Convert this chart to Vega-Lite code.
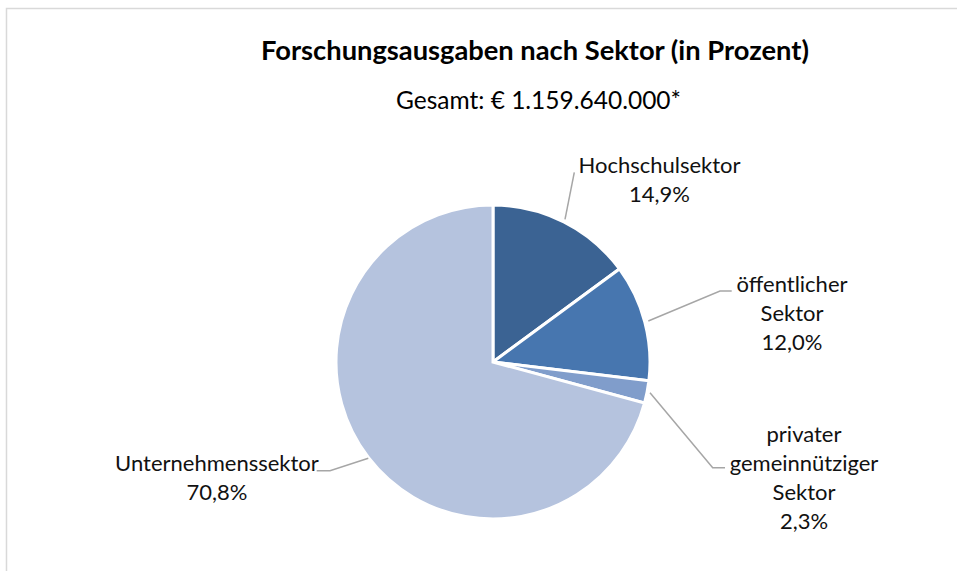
{
  "$schema": "https://vega.github.io/schema/vega-lite/v6.json",
  "width": 957,
  "height": 571,
  "padding": 0,
  "autosize": {"type": "none"},
  "background": "white",
  "config": {"view": {"stroke": null}, "font": "Lato"},
  "datasets": {
    "slices": [
      {"sector": "Hochschulsektor", "pct": 14.9, "idx": 1},
      {"sector": "öffentlicher Sektor", "pct": 12.0, "idx": 2},
      {"sector": "privater gemeinnütziger Sektor", "pct": 2.3, "idx": 3},
      {"sector": "Unternehmenssektor", "pct": 70.8, "idx": 4}
    ],
    "leaders": [
      {"sector": "Hochschulsektor", "seq": 1, "x": 0.4586, "y": 0.9089},
      {"sector": "Hochschulsektor", "seq": 2, "x": 0.5178, "y": 1.2083},
      {"sector": "öffentlicher Sektor", "seq": 1, "x": 0.9892, "y": 0.2611},
      {"sector": "öffentlicher Sektor", "seq": 2, "x": 1.4459, "y": 0.4522},
      {"sector": "öffentlicher Sektor", "seq": 3, "x": 1.5204, "y": 0.4522},
      {"sector": "privater gemeinnütziger Sektor", "seq": 1, "x": 1.0, "y": -0.1955},
      {"sector": "privater gemeinnütziger Sektor", "seq": 2, "x": 1.3994, "y": -0.6732},
      {"sector": "privater gemeinnütziger Sektor", "seq": 3, "x": 1.4777, "y": -0.6732},
      {"sector": "Unternehmenssektor", "seq": 1, "x": -0.7943, "y": -0.6134},
      {"sector": "Unternehmenssektor", "seq": 2, "x": -1.0382, "y": -0.6924},
      {"sector": "Unternehmenssektor", "seq": 3, "x": -1.1229, "y": -0.6924}
    ],
    "labels": [
      {"label": "Hochschulsektor\n14,9%", "x": 1.0605, "y": 1.2038},
      {"label": "öffentlicher\nSektor\n12,0%", "x": 1.9045, "y": 0.449},
      {"label": "privater\ngemeinnütziger\nSektor\n2,3%", "x": 1.9809, "y": -0.5064},
      {"label": "Unternehmenssektor\n70,8%", "x": -1.758, "y": -0.6943}
    ],
    "titles": [
      {"text": "Forschungsausgaben nach Sektor (in Prozent)", "kind": "title", "x": 0.2675, "y": 1.9236},
      {"text": "Gesamt: € 1.159.640.000*", "kind": "subtitle", "x": 0.2898, "y": 1.6115}
    ],
    "frame": [
      {"x": -3.0987, "y": 2.2516, "x2": 3.3, "y2": -1.6}
    ]
  },
  "layer": [
    {
      "data": {"name": "frame"},
      "mark": {"type": "rect", "fill": null, "stroke": "#D9D9D9", "strokeWidth": 1.5},
      "encoding": {
        "x": {"field": "x", "type": "quantitative", "scale": {"domain": [-3.1401, 2.9554], "nice": false, "zero": false}, "axis": null},
        "x2": {"field": "x2"},
        "y": {"field": "y", "type": "quantitative", "scale": {"domain": [-1.3312, 2.3057], "nice": false, "zero": false}, "axis": null},
        "y2": {"field": "y2"}
      }
    },
    {
      "data": {"name": "slices"},
      "mark": {"type": "arc", "outerRadius": 157, "stroke": "white", "strokeWidth": 3},
      "encoding": {
        "theta": {"field": "pct", "type": "quantitative", "stack": true},
        "order": {"field": "idx", "type": "quantitative"},
        "color": {
          "field": "sector",
          "type": "nominal",
          "scale": {
            "domain": ["Hochschulsektor", "öffentlicher Sektor", "privater gemeinnütziger Sektor", "Unternehmenssektor"],
            "range": ["#3B6393", "#4776AF", "#809DCB", "#B5C3DE"]
          },
          "legend": null
        },
        "x": {"datum": 0, "type": "quantitative"},
        "y": {"datum": 0, "type": "quantitative"}
      }
    },
    {
      "data": {"name": "leaders"},
      "mark": {"type": "line", "color": "#A6A6A6", "strokeWidth": 1.5},
      "encoding": {
        "x": {"field": "x", "type": "quantitative"},
        "y": {"field": "y", "type": "quantitative"},
        "detail": {"field": "sector"},
        "order": {"field": "seq", "type": "quantitative"}
      }
    },
    {
      "data": {"name": "labels"},
      "mark": {"type": "text", "align": "center", "baseline": "alphabetic", "lineBreak": "\n", "lineHeight": 29.3, "fontSize": 22, "color": "#111111"},
      "encoding": {
        "x": {"field": "x", "type": "quantitative"},
        "y": {"field": "y", "type": "quantitative"},
        "text": {"field": "label"}
      }
    },
    {
      "data": {"name": "titles"},
      "transform": [{"filter": "datum.kind === 'title'"}],
      "mark": {"type": "text", "align": "center", "baseline": "alphabetic", "fontSize": 27.3, "fontWeight": "bold", "color": "#000000"},
      "encoding": {
        "x": {"field": "x", "type": "quantitative"},
        "y": {"field": "y", "type": "quantitative"},
        "text": {"field": "text"}
      }
    },
    {
      "data": {"name": "titles"},
      "transform": [{"filter": "datum.kind === 'subtitle'"}],
      "mark": {"type": "text", "align": "center", "baseline": "alphabetic", "fontSize": 24.5, "color": "#000000"},
      "encoding": {
        "x": {"field": "x", "type": "quantitative"},
        "y": {"field": "y", "type": "quantitative"},
        "text": {"field": "text"}
      }
    }
  ]
}
